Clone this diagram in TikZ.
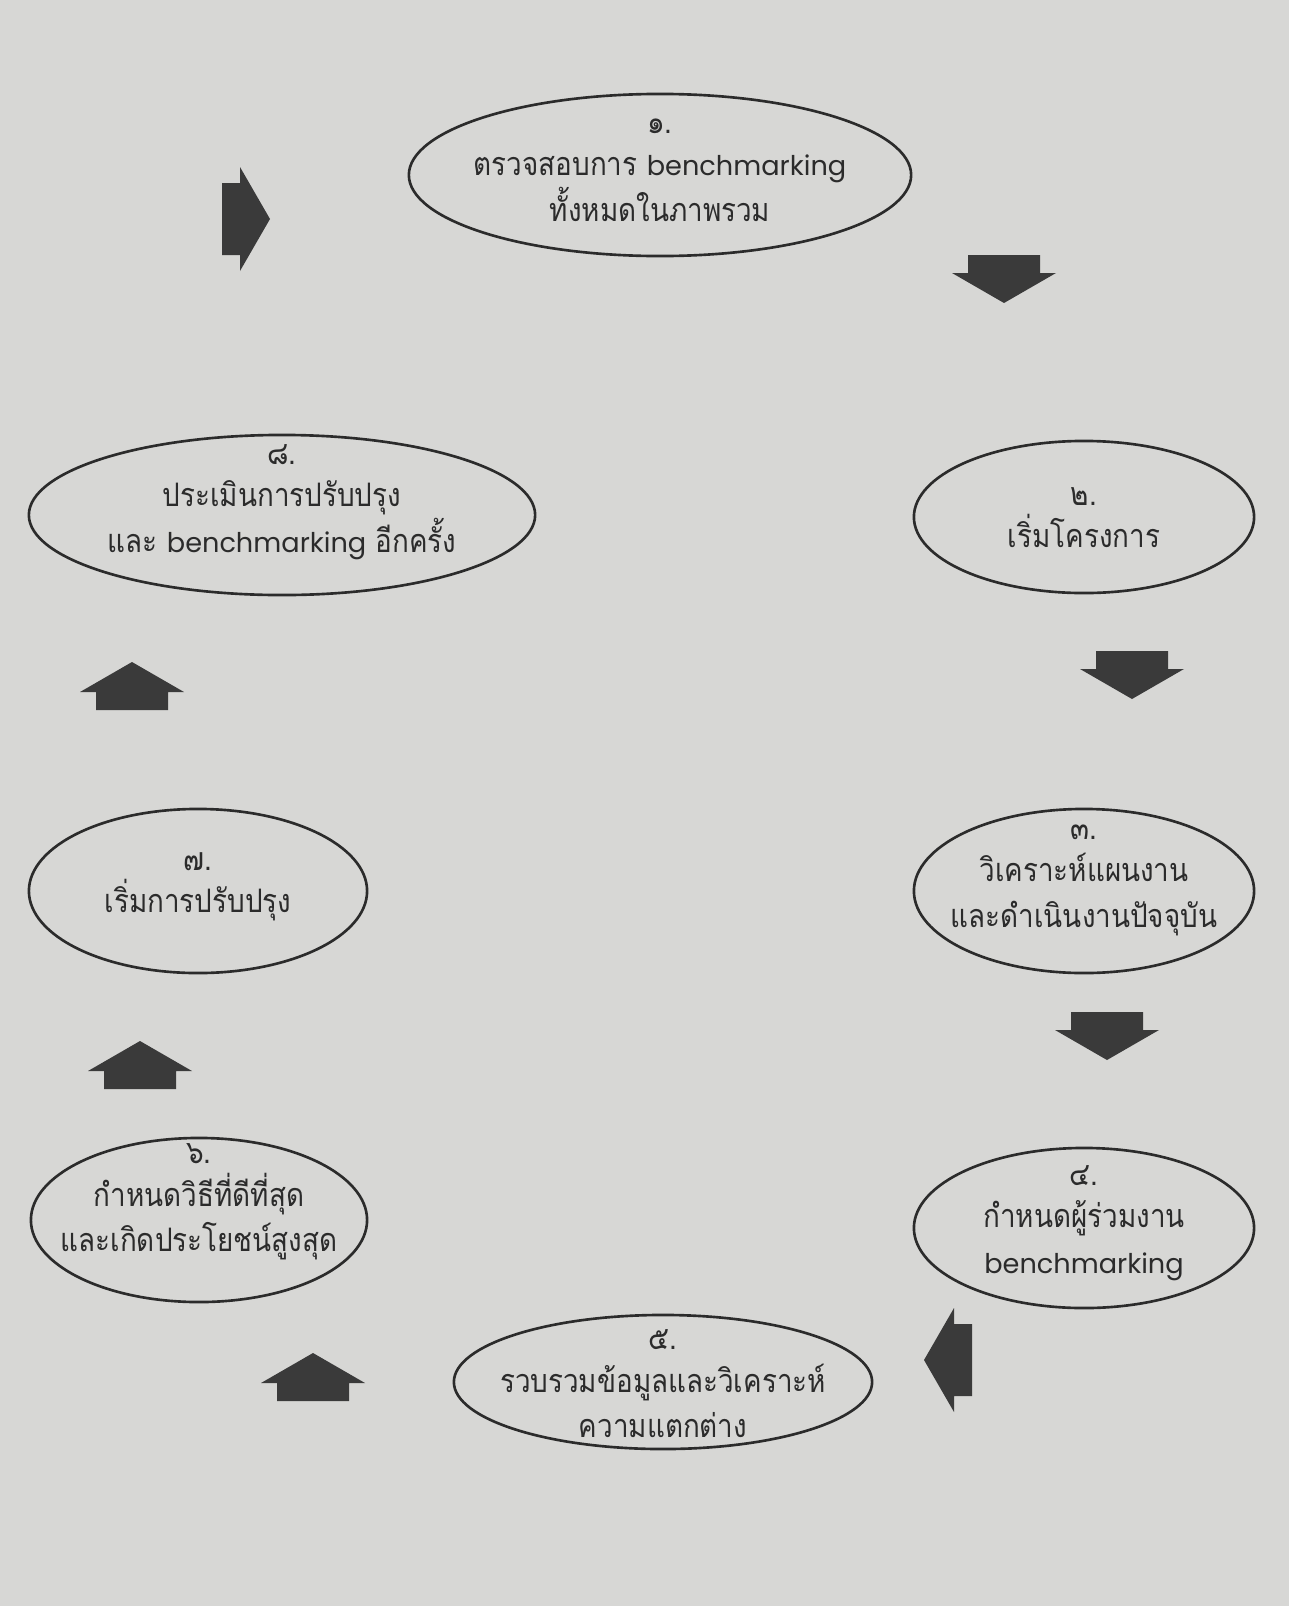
\documentclass[tikz,border=0pt]{standalone}
\usepackage{fontspec}
\usetikzlibrary{shapes.geometric}
\newfontfamily\thaifont[Script=Thai,FakeStretch=0.86]{Loma}
\newfontfamily\latinfont[Scale=0.84]{Poppins}
\newcommand{\Bench}{{\latinfont benchmarking}}
\definecolor{paper}{HTML}{D7D7D5}
\definecolor{ink}{HTML}{2B2B2B}
\definecolor{arrowfill}{HTML}{3A3A3A}

\begin{document}
\begin{tikzpicture}[x=0.01cm,y=-0.01cm,
  stage/.style={draw=ink,line width=0.75pt,ellipse,inner sep=0pt},
  stagetext/.style={align=center,text=ink,font=\thaifont\fontsize{9.2}{13}\selectfont},
  blockarrow/.pic={\fill[arrowfill] (-24,-36) -- (-6,-36) -- (-6,-52) -- (24,0)
     -- (-6,52) -- (-6,36) -- (-24,36) -- cycle;}]
\fill[paper] (0,0) rectangle (1289,1606);
\useasboundingbox (0,0) rectangle (1289,1606);

% stages
\node[stage,minimum width=5.02cm,minimum height=1.62cm] (S1) at (660,175) {};
\node[stage,minimum width=3.40cm,minimum height=1.52cm] (S2) at (1084,517) {};
\node[stage,minimum width=3.40cm,minimum height=1.64cm] (S3) at (1084,891) {};
\node[stage,minimum width=3.40cm,minimum height=1.60cm] (S4) at (1084,1228) {};
\node[stage,minimum width=4.18cm,minimum height=1.34cm] (S5) at (663,1382) {};
\node[stage,minimum width=3.36cm,minimum height=1.64cm] (S6) at (199,1220) {};
\node[stage,minimum width=3.38cm,minimum height=1.64cm] (S7) at (198,891) {};
\node[stage,minimum width=5.06cm,minimum height=1.60cm] (S8) at (282,515) {};

\node[stagetext] (S1-t) at (660,170) {๑.\\[-1pt] ตรวจสอบการ \Bench\\ ทั้งหมดในภาพรวม};
\node[stagetext] (S2-t) at (1084,518) {๒.\\[-1pt] เริ่มโครงการ};
\node[stagetext] (S3-t) at (1084,880) {๓.\\[-1pt] วิเคราะห์แผนงาน\\ และดำเนินงานปัจจุบัน};
\node[stagetext] (S4-t) at (1084,1223) {๔.\\[-1pt] กำหนดผู้ร่วมงาน\\ \Bench};
\node[stagetext] (S5-t) at (663,1384) {๕.\\[-1pt] รวบรวมข้อมูลและวิเคราะห์\\ ความแตกต่าง};
\node[stagetext] (S6-t) at (199,1202) {๖.\\[-1pt] กำหนดวิธีที่ดีที่สุด\\ และเกิดประโยชน์สูงสุด};
\node[stagetext] (S7-t) at (198,887) {๗.\\[-1pt] เริ่มการปรับปรุง};
\node[stagetext] (S8-t) at (282,502) {๘.\\[-1pt] ประเมินการปรับปรุง\\ และ \Bench\ อีกครั้ง};

% block arrows round the cycle
\pic at (246,219) {blockarrow};
\pic[rotate=-90] at (1004,279) {blockarrow};
\pic[rotate=-90] at (1132,675) {blockarrow};
\pic[rotate=-90] at (1107,1036) {blockarrow};
\pic[rotate=180] at (948,1360) {blockarrow};
\pic[rotate=90] at (313,1377) {blockarrow};
\pic[rotate=90] at (140,1065) {blockarrow};
\pic[rotate=90] at (132,686) {blockarrow};
\end{tikzpicture}
\end{document}
